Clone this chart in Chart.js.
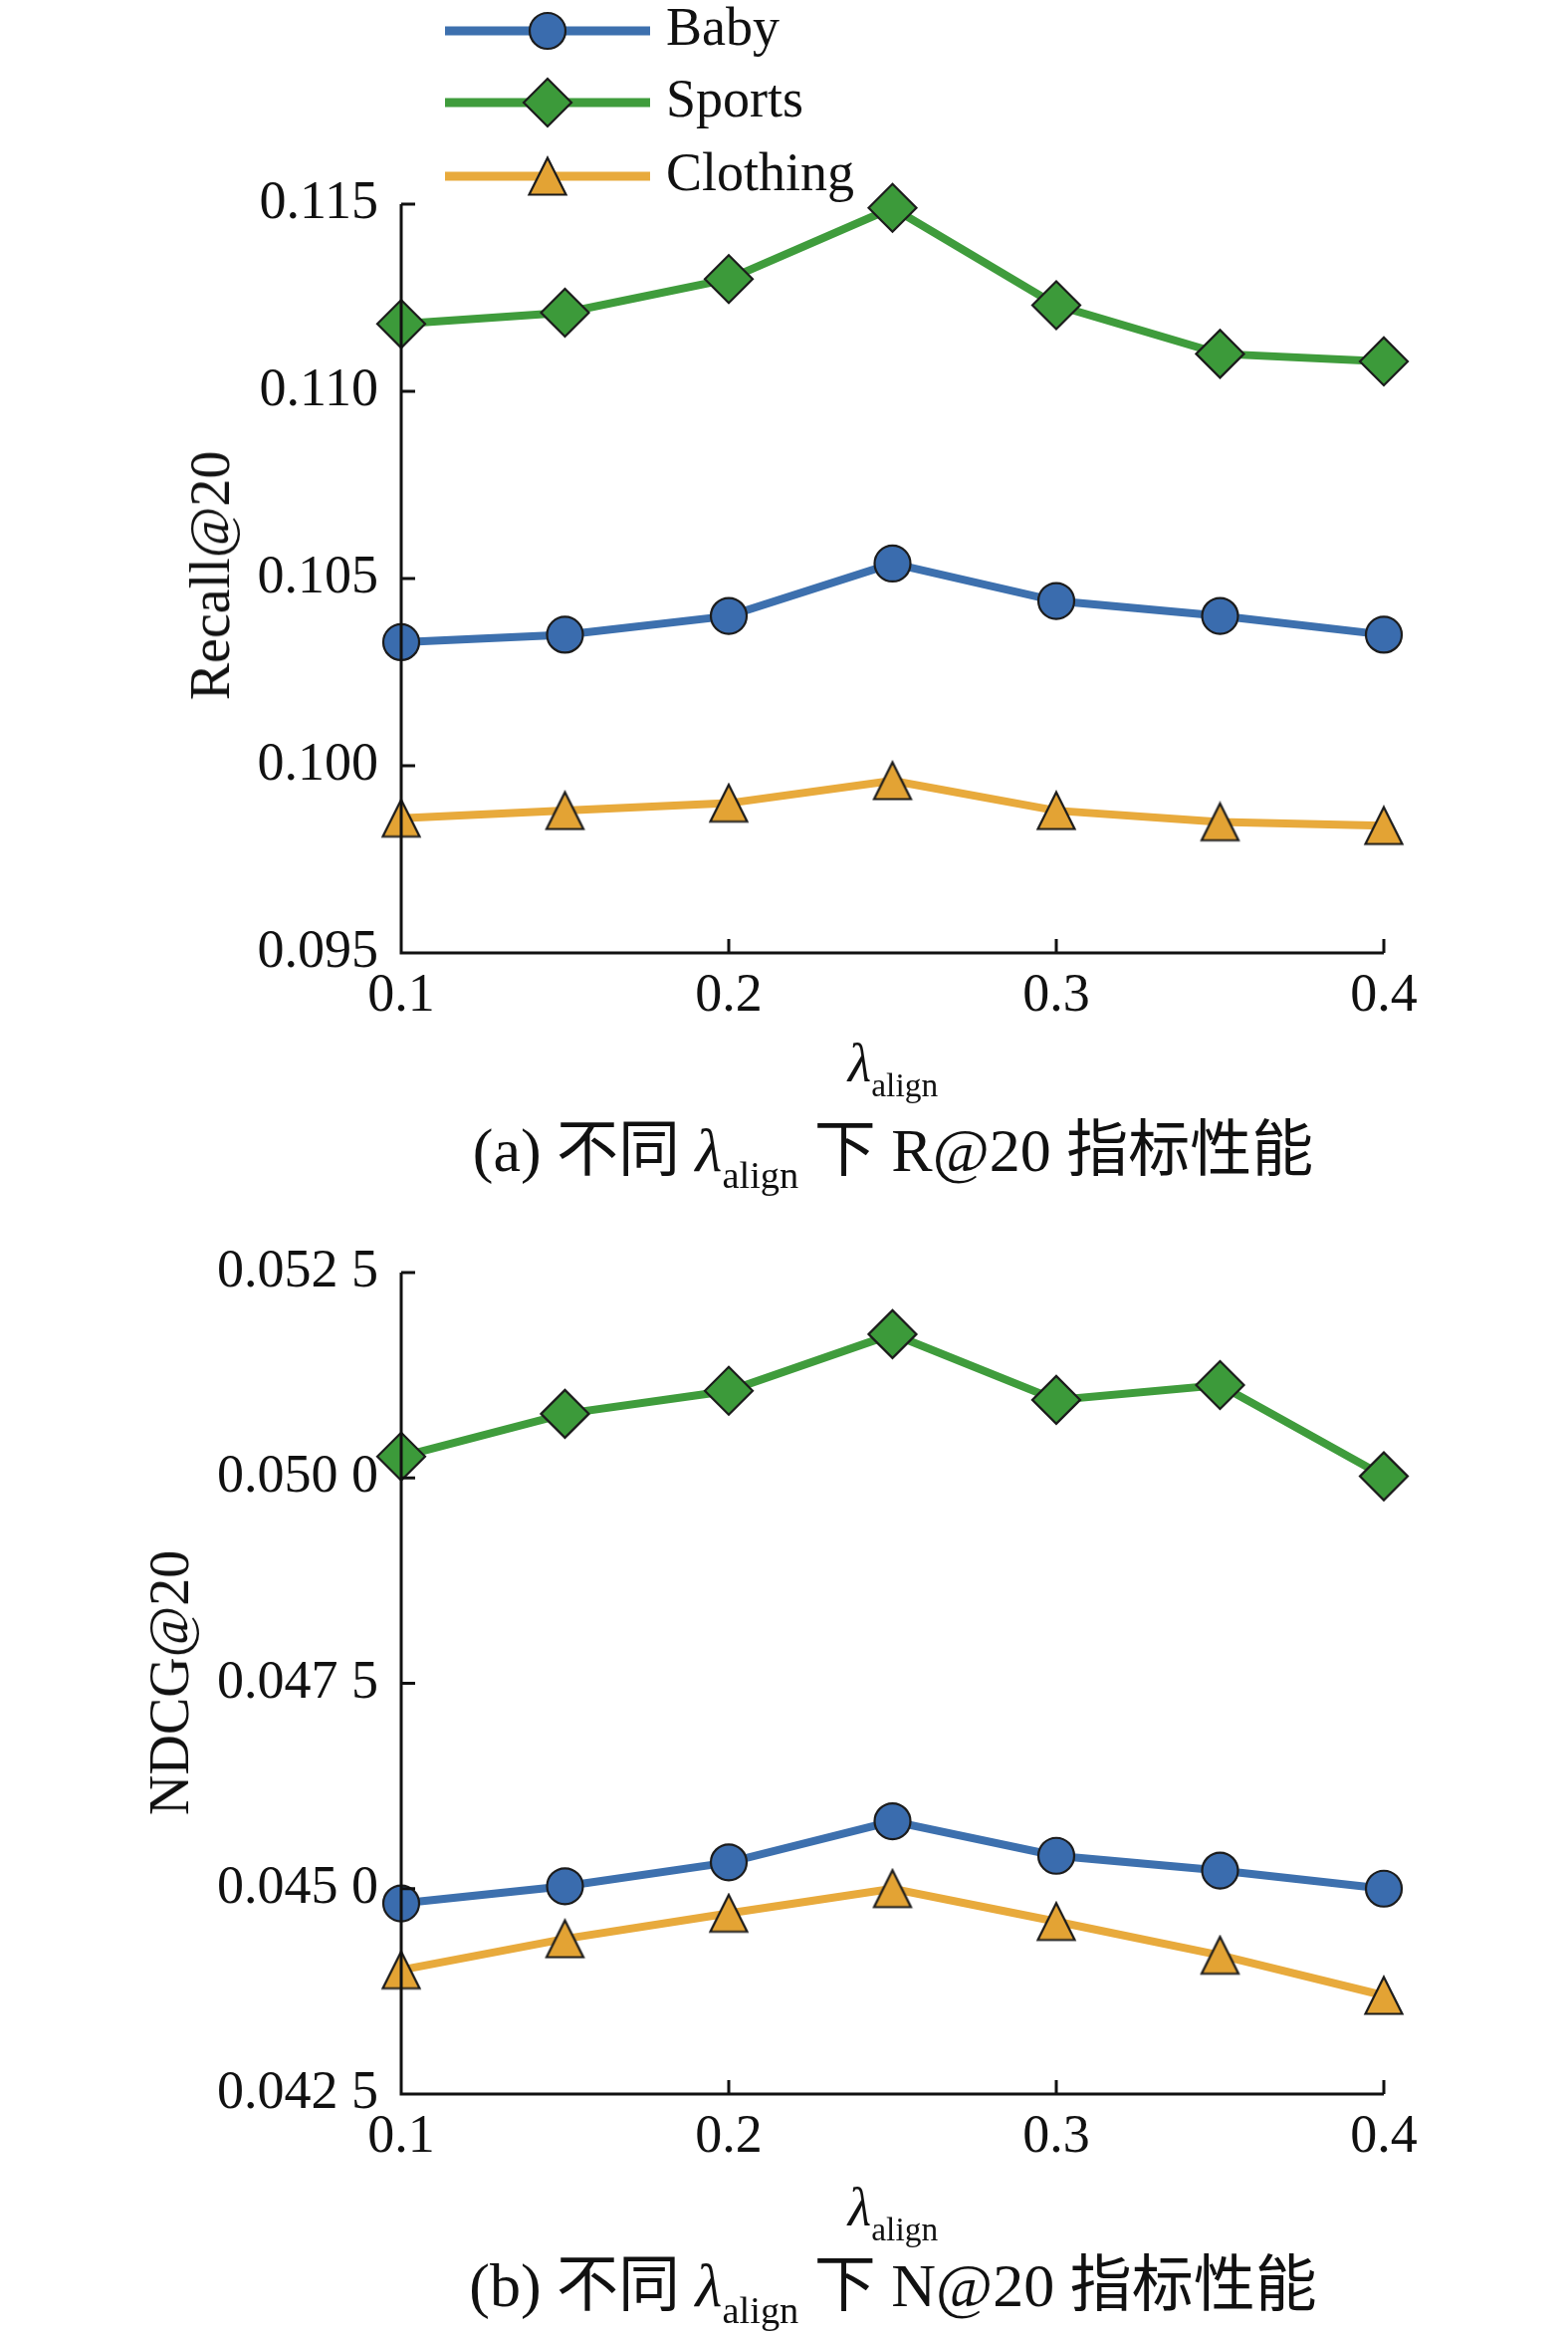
<!DOCTYPE html>
<html>
<head>
<meta charset="utf-8">
<script src="https://cdn.jsdelivr.net/npm/chart.js@4.4.1/dist/chart.umd.min.js"></script>
<style>
  html, body { margin: 0; padding: 0; background: #fff; }
  body { width: 1575px; height: 2345px; position: relative; overflow: hidden;
         font-family: "Liberation Serif", "Noto Sans CJK SC", serif; color: #111; }
  .box { position: absolute; left: 0; width: 1575px; }
  .txt { position: absolute; white-space: nowrap; line-height: 1; }
  .ytitle { font-size: 56px; transform: translate(-50%, -50%) rotate(-90deg); }
  .xtitle { font-size: 54px; transform: translate(-50%, -50%); }
  .caption { font-size: 62px; transform: translate(-50%, -50%); }
  .lam { font-style: italic; }
  sub { font-size: 0.62em; vertical-align: -0.45em; line-height: 0; }
</style>
</head>
<body>
<div class="box" style="top:0;height:1100px"><canvas id="recallChart"></canvas></div>
<div class="box" style="top:1100px;height:1245px"><canvas id="ndcgChart"></canvas></div>

<div class="txt ytitle" style="left:211px;top:578px">Recall@20</div>
<div class="txt xtitle" style="left:897px;top:1068px"><span class="lam">λ</span><sub>align</sub></div>
<div class="txt caption" style="left:897px;top:1155px">(a) 不同 <span class="lam">λ</span><sub>align</sub> 下 R@20 指标性能</div>

<div class="txt ytitle" style="left:170px;top:1690px">NDCG@20</div>
<div class="txt xtitle" style="left:897px;top:2217px"><span class="lam">λ</span><sub>align</sub></div>
<div class="txt caption" style="left:897px;top:2295px">(b) 不同 <span class="lam">λ</span><sub>align</sub> 下 N@20 指标性能</div>

<script>
// values
const lambdaValues = [0.1, 0.15, 0.2, 0.25, 0.3, 0.35, 0.4];
const seriesNames = ['Baby', 'Sports', 'Clothing'];

const recallBaby     = [0.1033, 0.1035, 0.1040, 0.1054, 0.1044, 0.1040, 0.1035];
const recallSports   = [0.1118, 0.1121, 0.1130, 0.1149, 0.1123, 0.1110, 0.1108];
const recallClothing = [0.0986, 0.0988, 0.0990, 0.0996, 0.0988, 0.0985, 0.0984];

const ndcgBaby     = [0.04482, 0.04503, 0.04532, 0.04582, 0.04540, 0.04522, 0.04500];
const ndcgSports   = [0.05026, 0.05078, 0.05106, 0.05175, 0.05095, 0.05113, 0.05002];
const ndcgClothing = [0.04401, 0.04439, 0.04470, 0.04500, 0.04460, 0.04419, 0.04370];

const xTicks = [0.1, 0.2, 0.3, 0.4];
const xTickLabels = ['0.1', '0.2', '0.3', '0.4'];
const recallTicks = [0.095, 0.100, 0.105, 0.110, 0.115];
const recallTickLabels = ['0.095', '0.100', '0.105', '0.110', '0.115'];
const ndcgTicks = [0.0425, 0.0450, 0.0475, 0.0500, 0.0525];
const ndcgTickLabels = ['0.042 5', '0.045 0', '0.047 5', '0.050 0', '0.052 5'];

const FONT = '"Liberation Serif", "Noto Sans CJK SC", serif';
const INK = '#111111';

// triangle marker (centred on its bounding box like the original)
function makeTriangle() {
    const c = document.createElement('canvas');
    c.width = 42; c.height = 42;
    const g = c.getContext('2d');
    g.beginPath();
    g.moveTo(21, 2.5);
    g.lineTo(39.5, 39.5);
    g.lineTo(2.5, 39.5);
    g.closePath();
    g.fillStyle = '#e3a334';
    g.fill();
    g.lineWidth = 2.2;
    g.lineJoin = 'miter';
    g.strokeStyle = '#1c1c1c';
    g.stroke();
    return c;
}
const triangleMarker = makeTriangle();

const styles = [
    { line: '#3d70ae', fill: '#3a6cae', point: 'circle', radius: 18 },
    { line: '#3f9c3c', fill: '#3c9a3a', point: 'rectRot', radius: 24 },
    { line: '#e8aa3c', fill: '#e3a334', point: triangleMarker, radius: 20 }
];

function makeDatasets(seriesList) {
    return seriesList.map((vals, i) => ({
        label: seriesNames[i],
        data: lambdaValues.map((x, j) => ({ x: x, y: vals[j] })),
        borderColor: styles[i].line,
        borderWidth: 8,
        backgroundColor: styles[i].fill,
        pointStyle: styles[i].point,
        pointRadius: styles[i].radius,
        pointBackgroundColor: styles[i].fill,
        pointBorderColor: '#1c1c1c',
        pointBorderWidth: 2.2,
        tension: 0,
        clip: false
    }));
}

// axis lines and inward tick marks, drawn above the data like the original
const axesPlugin = {
    id: 'inwardAxes',
    afterDatasetsDraw(chart) {
        const ctx = chart.ctx;
        const a = chart.chartArea;
        const xs = chart.scales.x, ys = chart.scales.y;
        ctx.save();
        ctx.strokeStyle = INK;
        ctx.lineWidth = 3;
        ctx.lineCap = 'butt';
        ctx.beginPath();
        ctx.moveTo(a.left, a.top);
        ctx.lineTo(a.left, a.bottom + 1.5);
        ctx.moveTo(a.left - 1.5, a.bottom);
        ctx.lineTo(a.right, a.bottom);
        ys.ticks.forEach(t => {
            const y = ys.getPixelForValue(t.value);
            ctx.moveTo(a.left, y);
            ctx.lineTo(a.left + 14, y);
        });
        xs.ticks.forEach(t => {
            const x = xs.getPixelForValue(t.value);
            ctx.moveTo(x, a.bottom);
            ctx.lineTo(x, a.bottom - 14);
        });
        ctx.stroke();
        ctx.restore();
    }
};

// legend with line + marker, as in the original
const legendPlugin = {
    id: 'lineLegend',
    afterDraw(chart, args, opts) {
        if (!opts.show) return;
        const ctx = chart.ctx;
        ctx.save();
        chart.data.datasets.forEach((ds, i) => {
            const y = opts.rows[i];
            ctx.strokeStyle = ds.borderColor;
            ctx.lineWidth = 9;
            ctx.beginPath();
            ctx.moveTo(opts.x0, y);
            ctx.lineTo(opts.x1, y);
            ctx.stroke();
            ctx.fillStyle = ds.pointBackgroundColor;
            ctx.strokeStyle = ds.pointBorderColor;
            ctx.lineWidth = ds.pointBorderWidth;
            Chart.helpers.drawPoint(ctx, {
                pointStyle: ds.pointStyle, radius: ds.pointRadius, rotation: 0, borderWidth: ds.pointBorderWidth
            }, opts.xm, y);
            ctx.fillStyle = INK;
            ctx.font = '54px ' + FONT;
            ctx.textBaseline = 'middle';
            ctx.textAlign = 'left';
            ctx.fillText(ds.label, opts.xt, y);
        });
        ctx.restore();
    }
};

function makeChart(id, seriesList, yTicks, yLabels, padTop, xHeight, legend) {
    return new Chart(document.getElementById(id), {
        type: 'line',
        data: { datasets: makeDatasets(seriesList) },
        options: {
            responsive: true,
            maintainAspectRatio: false,
            animation: false,
            events: [],
            layout: { autoPadding: false, padding: { left: 0, top: padTop, right: 185, bottom: 0 } },
            plugins: {
                legend: { display: false },
                tooltip: { enabled: false },
                lineLegend: legend
            },
            scales: {
                x: {
                    type: 'linear',
                    min: xTicks[0],
                    max: xTicks[xTicks.length - 1],
                    afterBuildTicks: s => { s.ticks = xTicks.map(v => ({ value: v })); },
                    afterFit: s => { s.height = xHeight; },
                    grid: { display: false, drawTicks: false },
                    border: { display: false },
                    ticks: {
                        callback: (v, i) => xTickLabels[i],
                        padding: 11,
                        maxRotation: 0,
                        color: INK,
                        font: { family: FONT, size: 54 }
                    }
                },
                y: {
                    type: 'linear',
                    min: yTicks[0],
                    max: yTicks[yTicks.length - 1],
                    afterBuildTicks: s => { s.ticks = yTicks.map(v => ({ value: v })); },
                    afterFit: s => { s.width = 403; },
                    grid: { display: false, drawTicks: false },
                    border: { display: false },
                    ticks: {
                        callback: (v, i) => yLabels[i],
                        padding: 23,
                        color: INK,
                        font: { family: FONT, size: 54 }
                    }
                }
            }
        },
        plugins: [axesPlugin, legendPlugin]
    });
}

makeChart('recallChart', [recallBaby, recallSports, recallClothing],
    recallTicks, recallTickLabels, 205, 143,
    { show: true, x0: 447, x1: 653, xm: 550, xt: 669, rows: [31, 103, 177] });

makeChart('ndcgChart', [ndcgBaby, ndcgSports, ndcgClothing],
    ndcgTicks, ndcgTickLabels, 178, 242, { show: false });
</script>
</body>
</html>
